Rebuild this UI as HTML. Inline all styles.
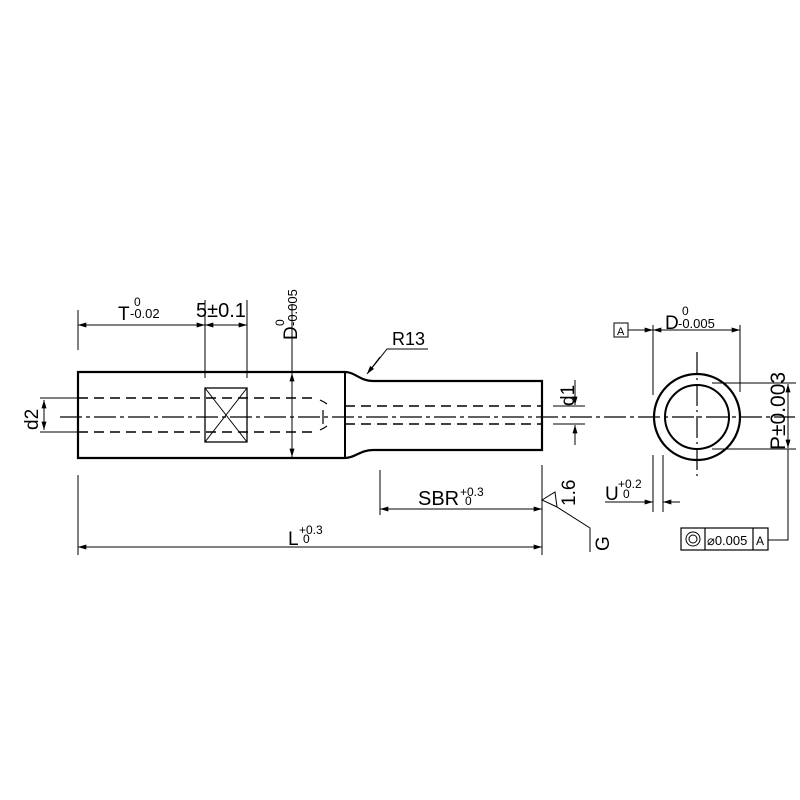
<!DOCTYPE html>
<html><head><style>body{margin:0;background:#fff}svg{display:block}text{font-family:"Liberation Sans",sans-serif;fill:#000}</style></head>
<body>
<svg width="800" height="800" viewBox="0 0 800 800" xmlns="http://www.w3.org/2000/svg">
<defs><marker id="a" viewBox="0 0 10 6" refX="10" refY="3" markerWidth="9" markerHeight="5" orient="auto-start-reverse" markerUnits="userSpaceOnUse"><path d="M0,0L10,3L0,6z" fill="#000"/></marker></defs>
<g stroke="#000" fill="none">
<path d="M78,372H345C355,372 360,381 373,381H542V450H373C360,450 355,458 345,458H78Z" stroke-width="2.2"/>
<line x1="345" y1="372" x2="345" y2="458" stroke-width="2"/>
<rect x="205" y="388" width="42" height="54" stroke-width="1.3"/>
<path d="M205,388L247,442M247,388L205,442" stroke-width="1"/>
<line x1="60" y1="417" x2="795" y2="417" stroke-width="1.3" stroke-dasharray="22,4,4,4"/>
<g stroke-width="1.4" stroke-dasharray="10,6">
<line x1="78" y1="398" x2="318" y2="398"/><line x1="78" y1="432" x2="318" y2="432"/>
<line x1="345" y1="406" x2="542" y2="406"/><line x1="345" y1="424" x2="542" y2="424"/>
</g>
<path d="M320,400L324,402L327,404M320,430L324,428L327,426M323,410V424" stroke-width="1.2"/>
<path d="M40,398H78M40,432H78" stroke-width="1"/>
<line x1="44" y1="400" x2="44" y2="430" stroke-width="1" marker-start="url(#a)" marker-end="url(#a)"/>
<path d="M78,310V350M205,300V378M247,300V378" stroke-width="1"/>
<line x1="78" y1="325" x2="205" y2="325" stroke-width="1" marker-start="url(#a)" marker-end="url(#a)"/>
<line x1="205" y1="325" x2="247" y2="325" stroke-width="1" marker-start="url(#a)" marker-end="url(#a)"/>
<line x1="292" y1="304" x2="292" y2="372" stroke-width="1"/>
<line x1="292" y1="373" x2="292" y2="457" stroke-width="1" marker-start="url(#a)" marker-end="url(#a)"/>
<path d="M428,349H387L368,373" stroke-width="1"/>
<line x1="380" y1="357" x2="367" y2="374" stroke-width="1" marker-end="url(#a)"/>
<path d="M78,475V555M542,465V555M380,470V515" stroke-width="1"/>
<line x1="78" y1="547" x2="542" y2="547" stroke-width="1" marker-start="url(#a)" marker-end="url(#a)"/>
<line x1="380" y1="509" x2="542" y2="509" stroke-width="1" marker-start="url(#a)" marker-end="url(#a)"/>
<path d="M542,500L555,492L557,507Z" stroke-width="1"/>
<path d="M557,507L590,528V552" stroke-width="1"/>
<path d="M553,406H585M553,424H585" stroke-width="1"/>
<line x1="575" y1="380" x2="575" y2="405" stroke-width="1" marker-end="url(#a)"/>
<line x1="575" y1="445" x2="575" y2="425" stroke-width="1" marker-end="url(#a)"/>
<circle cx="697" cy="417" r="43" stroke-width="2.2"/>
<circle cx="697" cy="417" r="32" stroke-width="2"/>
<line x1="697" y1="352" x2="697" y2="480" stroke-width="1.2" stroke-dasharray="22,4,2,4"/>
<path d="M653,325V395M740,325V392" stroke-width="1"/>
<line x1="628" y1="330" x2="653" y2="330" stroke-width="1" marker-end="url(#a)"/>
<line x1="653" y1="330" x2="740" y2="330" stroke-width="1" marker-start="url(#a)" marker-end="url(#a)"/>
<rect x="614" y="323" width="14" height="14" stroke-width="1"/>
<path d="M712,383H796M712,449H796" stroke-width="1"/>
<line x1="788" y1="384" x2="788" y2="448" stroke-width="1" marker-start="url(#a)" marker-end="url(#a)"/>
<path d="M788,449V540H768" stroke-width="1"/>
<path d="M653,455V512M663,455V512" stroke-width="1"/>
<line x1="605" y1="502" x2="653" y2="502" stroke-width="1" marker-end="url(#a)"/>
<line x1="680" y1="502" x2="663" y2="502" stroke-width="1" marker-end="url(#a)"/>
<rect x="681" y="528" width="87" height="22" stroke-width="1.2"/>
<path d="M705,528V550M753,528V550" stroke-width="1.2"/>
<circle cx="693" cy="539" r="7" stroke-width="1"/><circle cx="693" cy="539" r="4" stroke-width="1"/>
</g>
<text x="118" y="320" font-size="19">T</text><text x="134" y="306" font-size="12">0</text><text x="130" y="318" font-size="13">-0.02</text>
<text x="196" y="317" font-size="20">5±0.1</text>
<text transform="translate(297,340) rotate(-90)" font-size="19">D</text>
<text transform="translate(284,326) rotate(-90)" font-size="12">0</text>
<text transform="translate(297,326) rotate(-90)" font-size="13">-0.005</text>
<text x="392" y="345" font-size="18">R13</text>
<text transform="translate(38,430) rotate(-90)" font-size="19">d2</text>
<text transform="translate(574,406) rotate(-90)" font-size="19">d1</text>
<text x="288" y="545" font-size="19">L</text><text x="299" y="534" font-size="12">+0.3</text><text x="303" y="543" font-size="12">0</text>
<text x="418" y="505" font-size="20">SBR</text><text x="460" y="496" font-size="12">+0.3</text><text x="465" y="505" font-size="12">0</text>
<text transform="translate(575,506) rotate(-90)" font-size="19">1.6</text>
<text transform="translate(609,551) rotate(-90)" font-size="19">G</text>
<text x="665" y="329" font-size="19">D</text><text x="682" y="315" font-size="12">0</text><text x="678" y="328" font-size="13">-0.005</text>
<text x="617" y="335" font-size="11">A</text>
<text transform="translate(785,450) rotate(-90)" font-size="21">P±0.003</text>
<text x="605" y="500" font-size="19">U</text><text x="618" y="488" font-size="12">+0.2</text><text x="623" y="498" font-size="12">0</text>
<text x="707" y="545" font-size="13">⌀0.005</text>
<text x="756" y="545" font-size="12">A</text>
</svg>
</body></html>
